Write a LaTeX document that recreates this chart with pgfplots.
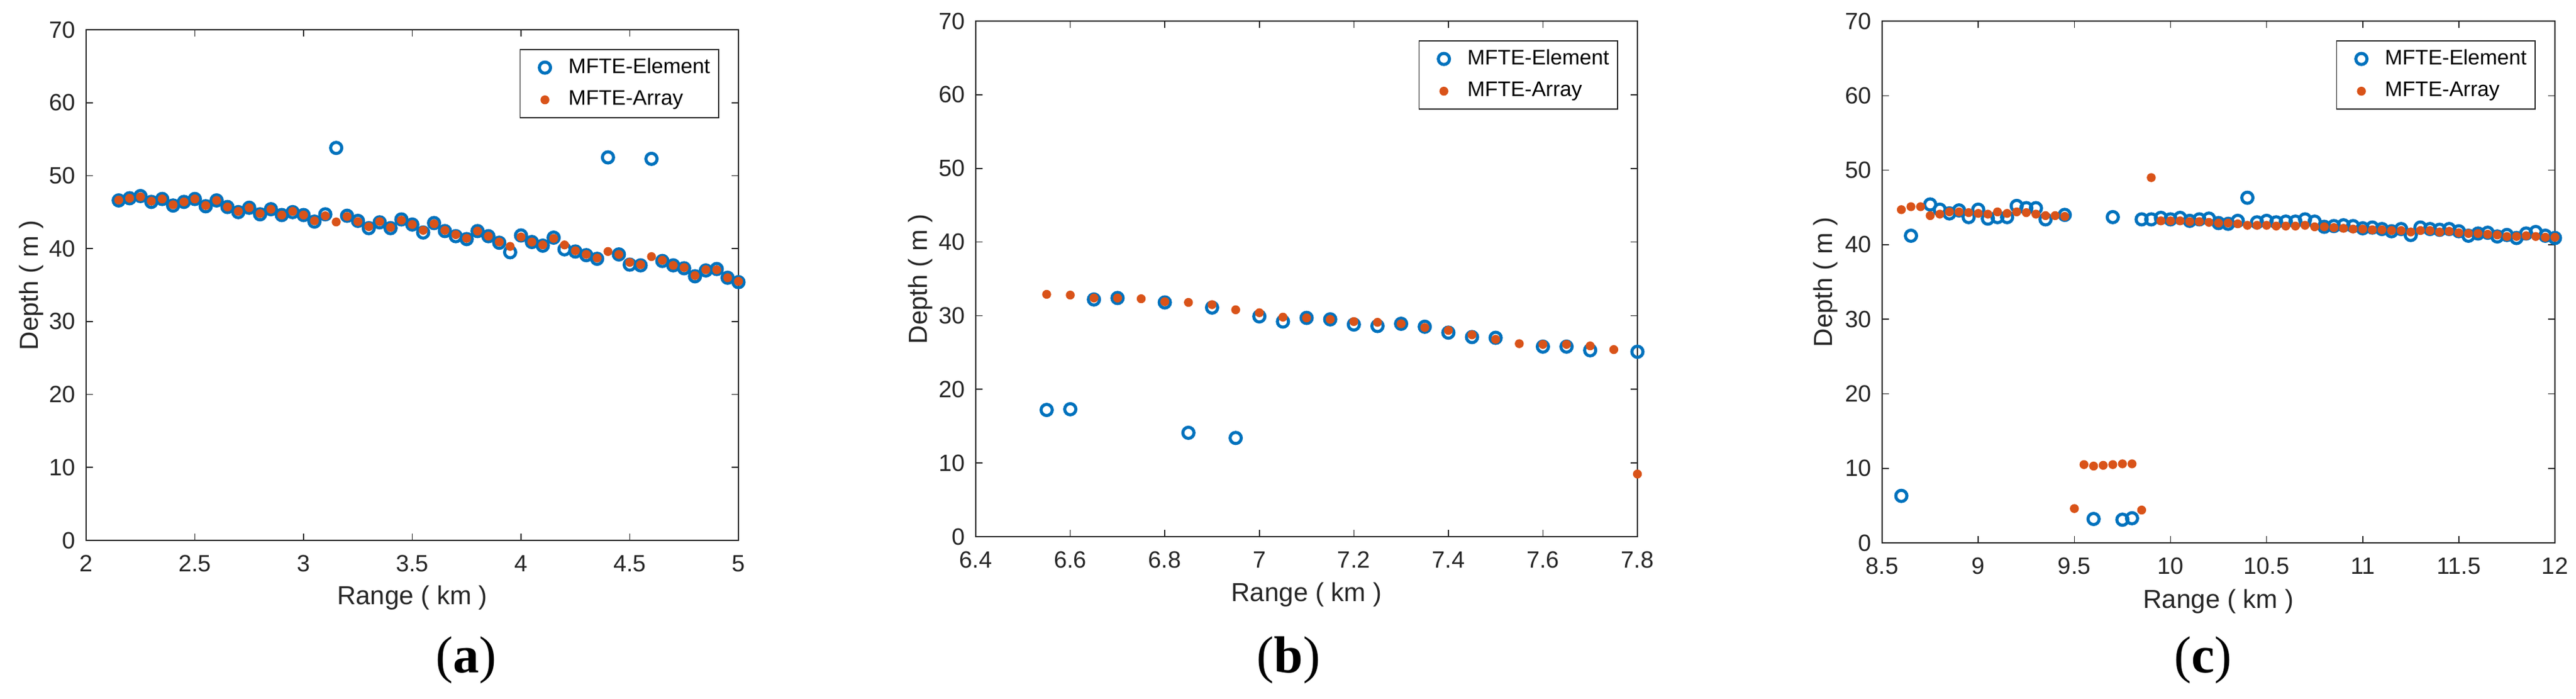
\documentclass[border=0pt]{standalone}
\usepackage{fontspec}
\setmainfont{Liberation Sans}
\newfontfamily\capfont{Liberation Serif}
\usepackage{pgfplots}
\pgfplotsset{compat=1.18}
\definecolor{mblue}{HTML}{0072BD}
\definecolor{morange}{HTML}{D95319}
\definecolor{axgray}{HTML}{262626}

\pgfplotsset{
  mstyle/.style={
    scale only axis, clip=false,
    ymin=0, ymax=70, ytick={0,10,...,70},
    tick align=inside, major tick length=2.75pt,
    axis line style={axgray, line width=0.5pt},
    every tick/.style={axgray, line width=0.4pt},
    tick label style={font=\fontsize{9.5}{11}\selectfont, text=axgray},
    xticklabel style={yshift=-2.5pt},
    yticklabel style={xshift=-0.8pt},
    /pgf/number format/assume math mode=true,
    label style={font=\fontsize{10.5}{12}\selectfont, text=axgray},
    xlabel={Range ( km )}, ylabel={Depth ( m )},
    xlabel style={at={(axis description cs:0.5,-0.112)}, anchor=center},
    ylabel style={at={(axis description cs:-0.084,0.5)}, anchor=center},
    legend style={at={(1,1)}, anchor=north east, xshift=-7.75pt, yshift=-7.75pt,
      draw=axgray, line width=0.4pt, font=\fontsize{8.5}{10}\selectfont,
      inner xsep=2pt, inner ysep=2pt, row sep=2.5pt, nodes={inner sep=1.5pt}},
    legend cell align=left,
    legend image code/.code={\path[draw=none,fill=none] (0pt,0pt) (16pt,0pt); \draw[##1] plot coordinates {(8pt,0pt)};},
  },
  el/.style={only marks, mark=o, mark size=2.25pt, mblue, line width=1.25pt},
  ar/.style={only marks, mark=*, mark size=1.6pt, morange},
}

\begin{document}
\begin{tikzpicture}
\useasboundingbox (0,0) rectangle (1039.5pt,281.75pt);

% ---------------- (a)
\begin{axis}[mstyle, at={(34.75pt,63.75pt)}, anchor=south west,
  width=263.25pt, height=206pt,
  xmin=2, xmax=5, xtick={2,2.5,...,5},
  xticklabels={2,2.5,3,3.5,4,4.5,5}]
\addplot[el] coordinates {
(2.15,46.6)(2.2,46.9)(2.25,47.2)(2.3,46.4)(2.35,46.8)(2.4,45.9)(2.45,46.4)(2.5,46.8)
(2.55,45.8)(2.6,46.6)(2.65,45.7)(2.7,45.0)(2.75,45.6)(2.8,44.7)(2.85,45.4)(2.9,44.6)
(2.95,45.0)(3.0,44.6)(3.05,43.7)(3.1,44.7)(3.15,53.8)(3.2,44.5)(3.25,43.8)(3.3,42.8)
(3.35,43.6)(3.4,42.8)(3.45,44.0)(3.5,43.3)(3.55,42.2)(3.6,43.5)(3.65,42.4)(3.7,41.7)
(3.75,41.3)(3.8,42.4)(3.85,41.7)(3.9,40.8)(3.95,39.5)(4.0,41.8)(4.05,40.9)(4.1,40.4)
(4.15,41.5)(4.2,39.9)(4.25,39.6)(4.3,39.1)(4.35,38.6)(4.4,52.5)(4.45,39.2)(4.5,37.8)
(4.55,37.7)(4.6,52.3)(4.65,38.3)(4.7,37.7)(4.75,37.3)(4.8,36.2)(4.85,37.0)(4.9,37.2)
(4.95,36.0)(5.0,35.4)};
\addplot[ar] coordinates {
(2.15,46.65)(2.2,46.9)(2.25,47.1)(2.3,46.5)(2.35,46.8)(2.4,46.0)(2.45,46.4)(2.5,46.8)
(2.55,45.9)(2.6,46.6)(2.65,45.7)(2.7,45.1)(2.75,45.6)(2.8,44.8)(2.85,45.4)(2.9,44.6)
(2.95,45.1)(3.0,44.6)(3.05,43.8)(3.1,44.5)(3.15,43.65)(3.2,44.4)(3.25,43.7)(3.3,43.0)
(3.35,43.7)(3.4,42.9)(3.45,43.9)(3.5,43.3)(3.55,42.5)(3.6,43.4)(3.65,42.5)(3.7,41.9)
(3.75,41.4)(3.8,42.4)(3.85,41.7)(3.9,40.9)(3.95,40.3)(4.0,41.6)(4.05,40.9)(4.1,40.5)
(4.15,41.4)(4.2,40.5)(4.25,39.7)(4.3,39.2)(4.35,38.7)(4.4,39.6)(4.45,39.2)(4.5,38.1)
(4.55,37.8)(4.6,38.9)(4.65,38.4)(4.7,37.7)(4.75,37.4)(4.8,36.3)(4.85,37.1)(4.9,37.1)
(4.95,36.0)(5.0,35.5)};
\legend{MFTE-Element,MFTE-Array}
\end{axis}

% ---------------- (b)
\begin{axis}[mstyle, at={(393.75pt,65.25pt)}, anchor=south west,
  width=267pt, height=208pt,
  xmin=6.4, xmax=7.8, xtick={6.4,6.6,6.8,7.0,7.2,7.4,7.6,7.8},
  xticklabels={6.4,6.6,6.8,7,7.2,7.4,7.6,7.8}]
\addplot[el] coordinates {
(6.55,17.2)(6.6,17.3)(6.65,32.2)(6.7,32.4)(6.8,31.8)(6.85,14.1)(6.9,31.1)(6.95,13.4)
(7.0,29.9)(7.05,29.2)(7.1,29.7)(7.15,29.5)(7.2,28.8)(7.25,28.6)(7.3,28.9)(7.35,28.5)
(7.4,27.7)(7.45,27.1)(7.5,27.0)(7.6,25.8)(7.65,25.8)(7.7,25.3)(7.8,25.1)};
\addplot[ar] coordinates {
(6.55,32.9)(6.6,32.8)(6.65,32.4)(6.7,32.4)(6.75,32.3)(6.8,31.9)(6.85,31.8)(6.9,31.5)
(6.95,30.8)(7.0,30.4)(7.05,29.8)(7.1,29.7)(7.15,29.5)(7.2,29.2)(7.25,29.1)(7.3,28.9)
(7.35,28.4)(7.4,28.0)(7.45,27.4)(7.5,26.8)(7.55,26.2)(7.6,26.1)(7.65,26.1)(7.7,25.9)
(7.75,25.4)(7.8,8.5)};
\legend{MFTE-Element,MFTE-Array}
\end{axis}

% ---------------- (c)
\begin{axis}[mstyle, at={(759.5pt,62.75pt)}, anchor=south west,
  width=271.5pt, height=210.5pt,
  xmin=8.5, xmax=12, xtick={8.5,9,...,12},
  xticklabels={8.5,9,9.5,10,10.5,11,11.5,12}]
\addplot[el] coordinates {
(8.6,6.3)(8.65,41.2)(8.75,45.4)(8.8,44.7)(8.85,44.2)(8.9,44.6)(8.95,43.7)(9.0,44.7)
(9.05,43.5)(9.1,43.7)(9.15,43.7)(9.2,45.2)(9.25,44.9)(9.3,44.9)(9.35,43.4)(9.45,44.0)
(9.6,3.2)(9.7,43.7)(9.75,3.1)(9.8,3.3)
(9.85,43.4)(9.9,43.4)(9.95,43.6)(10.0,43.4)(10.05,43.6)(10.1,43.2)(10.15,43.4)(10.2,43.5)
(10.25,42.9)(10.3,42.8)(10.35,43.2)(10.4,46.3)(10.45,43.0)(10.5,43.2)(10.55,43.0)(10.6,43.1)
(10.65,43.1)(10.7,43.4)(10.75,43.1)(10.8,42.4)(10.85,42.5)(10.9,42.6)(10.95,42.5)(11.0,42.2)
(11.05,42.3)(11.1,42.1)(11.15,41.8)(11.2,42.1)(11.25,41.3)(11.3,42.3)(11.35,42.1)(11.4,42.0)
(11.45,42.1)(11.5,41.8)(11.55,41.2)(11.6,41.5)(11.65,41.6)(11.7,41.1)(11.75,41.3)(11.8,40.9)
(11.85,41.5)(11.9,41.7)(11.95,41.2)(12.0,40.9)};
\addplot[ar] coordinates {
(8.6,44.7)(8.65,45.1)(8.7,45.1)(8.75,43.9)(8.8,44.1)(8.85,44.4)(8.9,44.4)(8.95,44.3)
(9.0,44.2)(9.05,44.1)(9.1,44.4)(9.15,44.2)(9.2,44.4)(9.25,44.3)(9.3,44.1)(9.35,43.9)
(9.4,43.9)(9.45,43.8)(9.5,4.6)(9.55,10.5)(9.6,10.3)(9.65,10.4)(9.7,10.5)(9.75,10.6)
(9.8,10.6)(9.85,4.4)(9.9,49.0)(9.95,43.2)(10.0,43.2)(10.05,43.2)(10.1,43.1)(10.15,43.1)
(10.2,43.0)(10.25,42.9)(10.3,42.9)(10.35,42.8)(10.4,42.6)(10.45,42.6)(10.5,42.6)(10.55,42.5)
(10.6,42.5)(10.65,42.5)(10.7,42.6)(10.75,42.4)(10.8,42.4)(10.85,42.3)(10.9,42.2)(10.95,42.1)
(11.0,42.1)(11.05,42.0)(11.1,42.0)(11.15,41.9)(11.2,41.9)(11.25,41.7)(11.3,41.9)(11.35,41.9)
(11.4,41.7)(11.45,41.8)(11.5,41.6)(11.55,41.5)(11.6,41.5)(11.65,41.4)(11.7,41.3)(11.75,41.1)
(11.8,41.1)(11.85,41.2)(11.9,41.1)(11.95,41.0)(12.0,41.0)};
\legend{MFTE-Element,MFTE-Array}
\end{axis}

\node[font=\capfont\fontsize{21}{24}\selectfont] at (188pt,15.5pt) {(\textbf{a})};
\node[font=\capfont\fontsize{21}{24}\selectfont] at (520pt,15.5pt) {(\textbf{b})};
\node[font=\capfont\fontsize{21}{24}\selectfont] at (889pt,15.5pt) {(\textbf{c})};
\end{tikzpicture}
\end{document}
